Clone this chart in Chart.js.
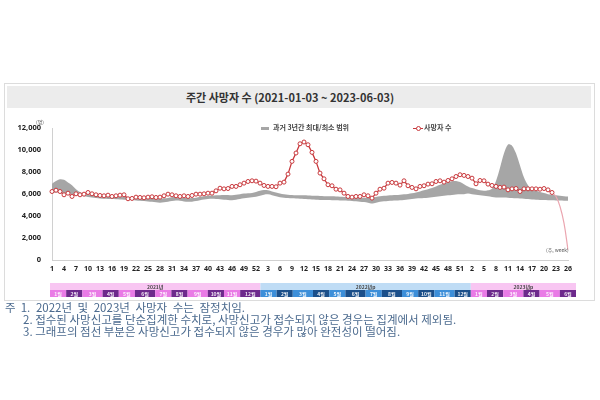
<!DOCTYPE html>
<html>
<head>
<meta charset="utf-8">
<script src="https://cdn.jsdelivr.net/npm/chart.js@4"></script>
<style>
  body { margin: 0; background: #fff; font-family: "Noto Sans CJK KR", "Noto Sans", sans-serif; }
  #page { position: relative; width: 600px; height: 400px; overflow: hidden; }
  #box { position: absolute; left: 4px; top: 83px; width: 589px; height: 216px; border: 1px solid #dcdcdc; }
  #title { position: absolute; left: 7px; top: 86px; width: 584px; height: 22px; background: #ececec; }
  #title span { position: absolute; left: 179px; top: 3px; font-size: 11px; font-weight: 700; color: #333; white-space: nowrap; }
  #wrap { position: absolute; left: 0; top: 110px; width: 600px; height: 190px; }
  .leg { position: absolute; top: 122px; font-size: 7px; font-weight: 700; color: #444; white-space: nowrap; }
  .unit { position: absolute; font-size: 5px; color: #555; white-space: nowrap; }
  .note { position: absolute; font-size: 11.5px; line-height: 17px; color: #4b6a8e; white-space: nowrap; }
</style>
</head>
<body>
<div id="page">
  <div id="box"></div>
  <div id="title"><span>주간 사망자 수 (2021-01-03 ~ 2023-06-03)</span></div>
  <div id="wrap"><canvas id="deathChart"></canvas></div>

  <div class="leg" style="left:261px;"><span style="display:inline-block;width:8px;height:3px;background:#a6a6a6;vertical-align:middle;margin-right:4px;"></span>과거 3년간 최대/최소 범위</div>
  <div class="leg" style="left:413px;"><span style="display:inline-block;position:relative;width:10px;height:6px;vertical-align:middle;margin-right:1px;"><span style="position:absolute;left:0;top:2.5px;width:10px;height:1px;background:#c8383c;"></span><span style="position:absolute;left:3px;top:0.5px;width:3px;height:3px;border:1px solid #c8383c;border-radius:50%;background:#fff;"></span></span>사망자 수</div>
  <div class="unit" style="left:36px;top:118px;">(명)</div>
  <div class="unit" style="left:546px;top:246px;">(주, week)</div>

  <div class="note" style="left:5px;top:299px;">주&nbsp;&nbsp;<span style="word-spacing:3px;">1. 2022년 및 2023년 사망자 수는 잠정치임.</span></div>
  <div class="note" style="left:23px;top:311px;">2. 접수된 사망신고를 단순집계한 수치로, 사망신고가 접수되지 않은 경우는 집계에서 제외됨.</div>
  <div class="note" style="left:23px;top:323px;">3. 그래프의 점선 부분은 사망신고가 접수되지 않은 경우가 많아 완전성이 떨어짐.</div>
</div>

<script>
// weeks: 2021 w1-52, 2022 w1-52, 2023 w1-26
const weeks2021 = Array.from({ length: 52 }, (_, i) => String(i + 1));
const weeks2022 = Array.from({ length: 52 }, (_, i) => String(i + 1));
const weeks2023 = Array.from({ length: 26 }, (_, i) => String(i + 1));
const weekLabels = [...weeks2021, ...weeks2022, ...weeks2023];

const yTicks = [0, 2000, 4000, 6000, 8000, 10000, 12000];

// weekly deaths (2023 w23-26 incomplete, shown as the faint part)
const deaths2021 = [
  6240, 6360, 6240, 5940, 6090, 5790, 6030, 5940, 6000, 6150,
  6030, 5940, 5880, 5850, 5910, 5790, 5850, 5910, 5940, 5580,
  5610, 5730, 5700, 5670, 5730, 5760, 5700, 5730, 5850, 6000,
  5940, 5850, 5790, 5850, 5790, 5880, 6000, 6000, 6030, 6090,
  6090, 6300, 6540, 6480, 6510, 6700, 6700, 6850, 7000, 7150,
  7210, 7180
];
const deaths2022 = [
  7000, 6790, 6700, 6700, 6670, 7000, 7090, 7820, 8970, 9730, 10570,
  10730, 10480, 9790, 8970, 7910, 7390, 6850, 6760, 6450, 6390, 6090,
  5790, 5730, 5790, 5790, 5940, 5850, 5640, 6090, 6450, 6540, 7000,
  7060, 7000, 6820, 7210, 6760, 6610, 6480, 6700, 6760, 6910, 6940,
  7150, 7210, 7090, 7240, 7390, 7600, 7760, 7700
];
const deaths2023 = [
  7600, 7450, 6940, 7240, 7210, 6910, 6790, 6700, 6610, 6640, 6390, 6480, 6510,
  6240, 6480, 6480, 6480, 6480, 6450, 6510, 6390, 6150
];
const deaths2023Partial = [5790, 4880, 3370, 940];

// past 3 years max / min
const max2021 = [
  6950, 7200, 7350, 7300, 7050, 6800, 6450, 6200, 6050, 5980,
  5950, 5900, 5880, 5870, 5870, 5850, 5850, 5820, 5780, 5730,
  5720, 5700, 5700, 5680, 5650, 5640, 5620, 5600, 5620, 5660,
  5720, 5730, 5700, 5680, 5650, 5640, 5680, 5760, 5820, 5850,
  5870, 5900, 5900, 5920, 5930, 5900, 5950, 6000, 6050, 6080,
  6100, 6200
];
const min2021 = [
  6100, 6150, 6150, 6100, 6050, 5980, 5900, 5850, 5800, 5750,
  5700, 5650, 5600, 5580, 5570, 5550, 5540, 5520, 5500, 5480,
  5460, 5430, 5400, 5370, 5330, 5300, 5260, 5230, 5260, 5320,
  5380, 5420, 5400, 5340, 5300, 5320, 5380, 5450, 5520, 5560,
  5580, 5560, 5540, 5500, 5480, 5450, 5500, 5560, 5620, 5680,
  5720, 5760
];
const max2022 = [
  6300, 6380, 6350, 6250, 6150, 6050, 5980, 5950, 5920, 5900,
  5900, 5900, 5880, 5860, 5850, 5830, 5820, 5800, 5800, 5780,
  5760, 5740, 5720, 5700, 5700, 5680, 5680, 5680, 5700, 5750,
  5800, 5850, 5880, 5900, 5920, 5950, 5980, 6020, 6080, 6150,
  6250, 6350, 6450, 6550, 6700, 6850, 6980, 7100, 7180, 7200,
  7100, 6900
];
const min2022 = [
  5850, 5950, 5980, 5900, 5800, 5720, 5680, 5650, 5620, 5600,
  5580, 5560, 5540, 5520, 5500, 5480, 5470, 5460, 5450, 5440,
  5430, 5420, 5400, 5380, 5350, 5320, 5280, 5220, 5150, 5220,
  5300, 5350, 5380, 5400, 5420, 5450, 5480, 5520, 5560, 5600,
  5620, 5650, 5680, 5720, 5760, 5800, 5850, 5900, 5930, 5960,
  5980, 6000
];
const max2023 = [
  6700, 6550, 6450, 6350, 6300, 6350, 6500, 7200, 8400, 9700,
  10500, 10400, 9700, 8600, 7500, 6800, 6400, 6300, 6200, 6100,
  6000, 5950, 5900, 5850, 5800, 5780
];
const min2023 = [
  6050, 6000, 5950, 5900, 5850, 5800, 5750, 5700, 5700, 5700,
  5680, 5650, 5620, 5600, 5580, 5550, 5520, 5500, 5480, 5460,
  5450, 5440, 5430, 5420, 5410, 5400
];

const deaths = [...deaths2021, ...deaths2022, ...deaths2023,
  ...deaths2023Partial.map(() => null)];
const lastFull = deaths2021.length + deaths2022.length + deaths2023.length - 1;
const deathsPartial = weekLabels.map(() => null);
deathsPartial[lastFull] = deaths[lastFull];
deaths2023Partial.forEach((v, k) => { deathsPartial[lastFull + 1 + k] = v; });
const bandMax = [...max2021, ...max2022, ...max2023];
const bandMin = [...min2021, ...min2022, ...min2023];

// month / year strip under the x axis
const yearColors = { 2021: '#f8c6f2', 2022: '#bfdcf5', 2023: '#f8c6f2' };
const yearNames = { 2021: '2021년', 2022: '2022년p', 2023: '2023년p' };
function monthColor(y, m) {
  if (y === 2022) return m % 2 ? '#3d8fd9' : '#1b4f8a';
  return m % 2 ? '#e97be6' : '#6d2a8c';
}

const stripPlugin = {
  id: 'strip',
  afterDraw(chart) {
    const { ctx } = chart;
    const xs = chart.scales.x;
    const n = weekLabels.length;
    const left = xs.getPixelForValue(0) - 2;
    const right = xs.getPixelForValue(n - 1) + 8;
    const w = (right - left) / n;
    const info = weekLabels.map((_, i) => {
      const d = new Date(2021, 0, 3 + 7 * i + 3);
      return { y: d.getFullYear(), m: d.getMonth() + 1 };
    });
    const groups = (key) => {
      const out = [];
      info.forEach((o, i) => {
        const k = key(o);
        const g = out[out.length - 1];
        if (g && g.k === k) g.end = i; else out.push({ k, o, start: i, end: i });
      });
      return out;
    };
    const yTop = 173, yMid = 180, yBot = 187;
    ctx.save();
    ctx.textAlign = 'center';
    ctx.textBaseline = 'middle';
    ctx.font = 'bold 5px "Noto Sans CJK KR"';
    groups(o => o.y).forEach(g => {
      const x0 = left + g.start * w, x1 = left + (g.end + 1) * w;
      ctx.fillStyle = yearColors[g.o.y];
      ctx.fillRect(x0, yTop, x1 - x0, yMid - yTop);
      ctx.fillStyle = '#444';
      ctx.fillText(yearNames[g.o.y], (x0 + x1) / 2, (yTop + yMid) / 2 + 0.5);
    });
    groups(o => o.y * 100 + o.m).forEach(g => {
      const x0 = left + g.start * w, x1 = left + (g.end + 1) * w;
      ctx.fillStyle = monthColor(g.o.y, g.o.m);
      ctx.fillRect(x0, yMid, x1 - x0, yBot - yMid);
      ctx.fillStyle = 'rgba(255,255,255,0.9)';
      ctx.fillText(g.o.m + '월', (x0 + x1) / 2, (yMid + yBot) / 2 + 0.5);
    });
    ctx.restore();
  }
};

const ctx = document.getElementById('deathChart').getContext('2d');
new Chart(ctx, {
  type: 'line',
  data: {
    labels: weekLabels,
    datasets: [
      {
        label: '사망자 수',
        data: deaths,
        borderColor: '#c8383c',
        borderWidth: 1.3,
        pointRadius: 2,
        pointBorderWidth: 1,
        pointBackgroundColor: '#fff',
        pointBorderColor: '#c8383c',
        tension: 0,
        order: 0
      },
      {
        label: 'partial',
        data: deathsPartial,
        borderColor: '#eba6b0',
        borderWidth: 1.2,
        pointRadius: 0,
        tension: 0.4,
        order: 1
      },
      {
        label: 'max',
        data: bandMax,
        borderWidth: 0,
        pointRadius: 0,
        backgroundColor: '#a6a6a6',
        fill: '+1',
        tension: 0.3,
        order: 2
      },
      {
        label: 'min',
        data: bandMin,
        borderWidth: 0,
        pointRadius: 0,
        backgroundColor: '#a6a6a6',
        fill: false,
        tension: 0.3,
        order: 3
      }
    ]
  },
  options: {
    responsive: true,
    maintainAspectRatio: false,
    animation: false,
    layout: { padding: { left: 0, right: 32, top: 18, bottom: 0 } },
    plugins: { legend: { display: false }, tooltip: { enabled: false } },
    scales: {
      x: {
        offset: false,
        grid: { display: false, drawTicks: false },
        border: { color: '#d0d0d0' },
        afterFit: (s) => { s.height = 39.7; },
        ticks: {
          autoSkip: false,
          maxRotation: 0,
          padding: 4,
          color: '#222',
          font: { family: 'Noto Sans', size: 7, weight: 'bold' },
          callback: (v, i) => (i % 3 === 0 ? weekLabels[i] : '')
        }
      },
      y: {
        min: 0,
        max: 12000,
        grid: { display: false, drawTicks: false },
        border: { color: '#d0d0d0' },
        afterFit: (s) => { s.width = 52; },
        afterBuildTicks: (s) => { s.ticks = yTicks.map(v => ({ value: v })); },
        ticks: {
          padding: 11,
          color: '#222',
          font: { family: 'Noto Sans', size: 7.5, weight: 'bold' },
          callback: (v) => v.toLocaleString('en-US')
        }
      }
    }
  },
  plugins: [stripPlugin]
});
</script>
</body>
</html>
